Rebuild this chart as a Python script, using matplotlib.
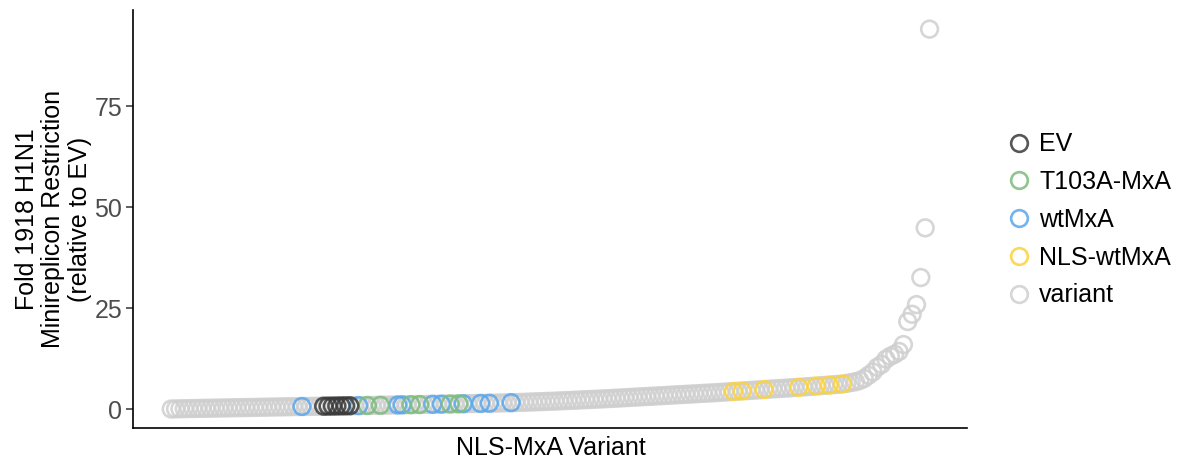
import numpy as np
import matplotlib
matplotlib.use("Agg")
import matplotlib.pyplot as plt
from matplotlib.lines import Line2D

plt.rcParams['font.family'] = ['Liberation Sans', 'DejaVu Sans']

# fold restriction per variant, sorted by rank
fold_values = [
    0.05, 0.08, 0.1, 0.13, 0.15, 0.17, 0.19, 0.21, 0.23, 0.25,
    0.27, 0.29, 0.31, 0.33, 0.35, 0.37, 0.39, 0.41, 0.43, 0.45,
    0.47, 0.49, 0.51, 0.53, 0.55, 0.57, 0.59, 0.61, 0.63, 0.65,
    0.67, 0.69, 0.7, 0.72, 0.74, 0.75, 0.77, 0.78, 0.8, 0.82,
    0.83, 0.85, 0.87, 0.88, 0.9, 0.92, 0.94, 0.96, 0.98, 1.0,
    1.02, 1.04, 1.06, 1.08, 1.1, 1.12, 1.14, 1.16, 1.18, 1.2,
    1.22, 1.24, 1.26, 1.28, 1.3, 1.32, 1.34, 1.36, 1.38, 1.4,
    1.42, 1.44, 1.46, 1.48, 1.5, 1.53, 1.56, 1.59, 1.62, 1.65,
    1.68, 1.72, 1.76, 1.8, 1.84, 1.88, 1.92, 1.96, 2.0, 2.05,
    2.1, 2.15, 2.2, 2.25, 2.3, 2.35, 2.4, 2.45, 2.5, 2.55,
    2.6, 2.66, 2.72, 2.78, 2.84, 2.9, 2.96, 3.02, 3.08, 3.14,
    3.2, 3.26, 3.32, 3.38, 3.44, 3.5, 3.56, 3.62, 3.68, 3.74,
    3.8, 3.86, 3.92, 3.98, 4.04, 4.1, 4.17, 4.24, 4.31, 4.38,
    4.45, 4.52, 4.59, 4.66, 4.73, 4.8, 4.87, 4.94, 5.01, 5.08,
    5.15, 5.22, 5.29, 5.36, 5.43, 5.5, 5.58, 5.66, 5.74, 5.82,
    5.9, 5.98, 6.06, 6.15, 6.25,
    6.4, 6.6, 6.8, 7.1, 7.6, 8.4, 9.2, 10.4, 11.1, 12.4,
    13.1, 13.6, 14.3, 16.0, 21.7, 23.5, 25.9, 32.6, 44.9, 94.1,
]

# ranks of the control constructs
ev_ranks = [35, 36, 37, 38, 39, 40, 41]
t103a_ranks = [45, 48, 55, 57, 64, 66]
wt_ranks = [30, 43, 52, 53, 60, 62, 67, 71, 73, 78]
nls_wt_ranks = [129, 131, 136, 144, 148, 151, 154]

groups = ['EV', 'T103A-MxA', 'wtMxA', 'NLS-wtMxA', 'variant']
colors = {'EV': '#3a3a3a', 'T103A-MxA': '#7dbb7d', 'wtMxA': '#5aa6ec',
          'NLS-wtMxA': '#fcd23c', 'variant': '#cfcfcf'}

rank = np.arange(len(fold_values))
fold = np.array(fold_values)
label = np.array(['variant'] * len(fold_values), dtype=object)
label[ev_ranks] = 'EV'
label[t103a_ranks] = 'T103A-MxA'
label[wt_ranks] = 'wtMxA'
label[nls_wt_ranks] = 'NLS-wtMxA'

fig = plt.figure(figsize=(11.9, 4.61), dpi=100)
ax = fig.add_axes([0.112, 0.0716, 0.701, 0.9064])

# grey first, controls on top
for g in ['variant', 'NLS-wtMxA', 'wtMxA', 'T103A-MxA', 'EV']:
    m = label == g
    ax.scatter(rank[m], fold[m], s=145, facecolors='none',
               edgecolors=colors[g], linewidths=1.9, alpha=0.85, zorder=3)

n = len(fold_values)
ax.set_xlim(-0.05 * (n - 1), (n - 1) * 1.05)
ax.set_ylim(-4.65, 98.8)
ax.set_yticks([0, 25, 50, 75])
ax.set_xticks([])
ax.tick_params(axis='y', labelsize=18, labelcolor='#4d4d4d', color='#333333',
               length=5, width=1.1, pad=3)
for s in ['top', 'right']:
    ax.spines[s].set_visible(False)
for s in ['left', 'bottom']:
    ax.spines[s].set_linewidth(1.2)

ax.set_xlabel('NLS-MxA Variant', fontsize=18, labelpad=6)
ax.set_ylabel('Fold 1918 H1N1\nMinireplicon Restriction\n(relative to EV)',
              fontsize=18, labelpad=2, linespacing=1.13)

handles = [Line2D([], [], marker='o', linestyle='none', markersize=12,
                  markerfacecolor='none', markeredgecolor=colors[g],
                  markeredgewidth=1.9, alpha=0.85) for g in groups]
fig.legend(handles, groups, loc='center left', bbox_to_anchor=(0.826, 0.523),
           frameon=False, fontsize=18, handletextpad=0.25, labelspacing=0.55,
           handlelength=1.1)

fig.savefig('out.png', dpi=100)
